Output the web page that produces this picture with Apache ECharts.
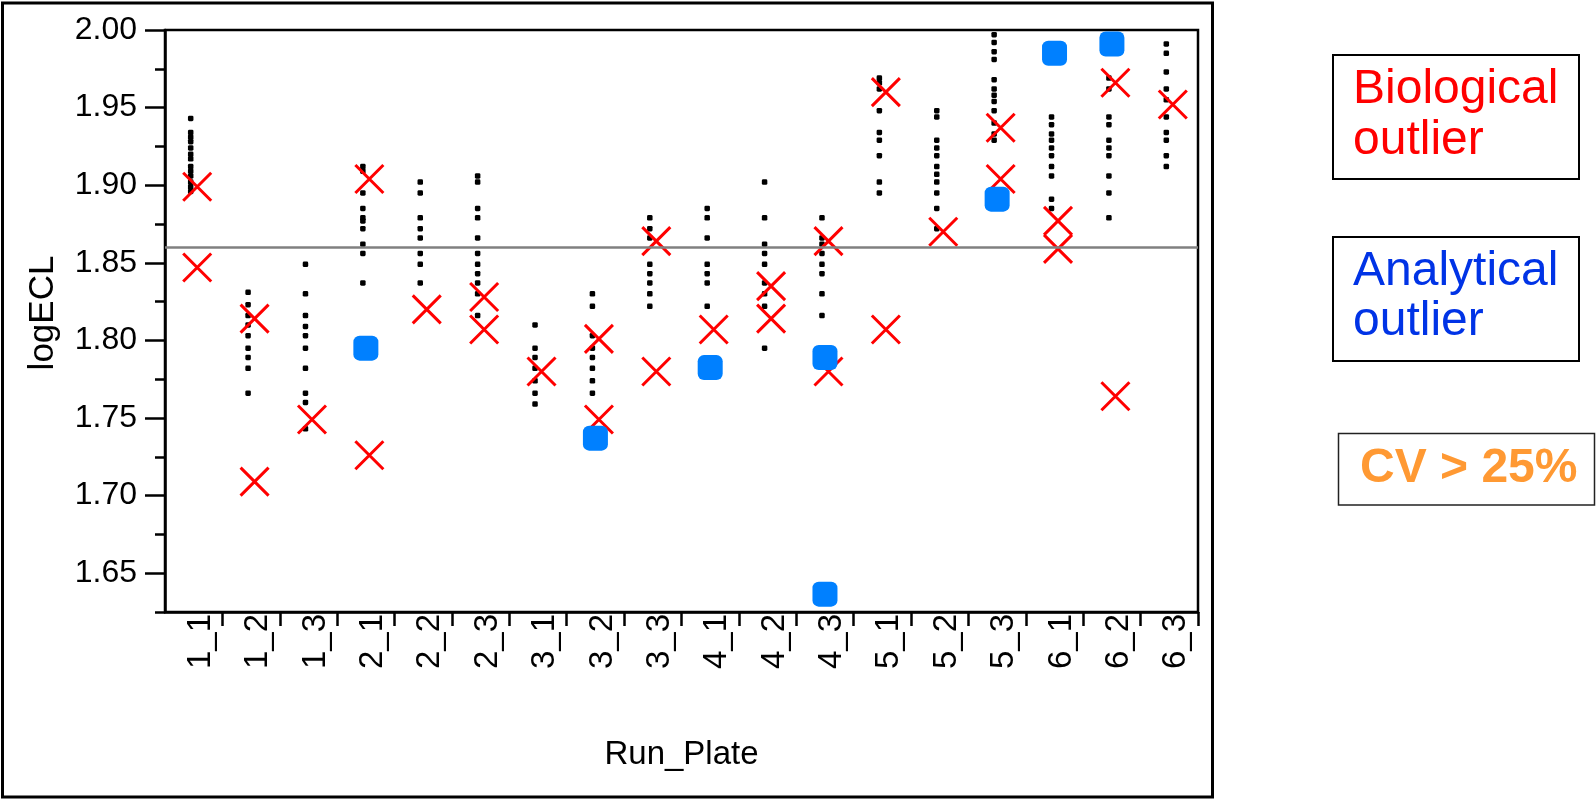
<!DOCTYPE html>
<html>
<head>
<meta charset="utf-8">
<script src="https://cdn.jsdelivr.net/npm/echarts@6/dist/echarts.min.js"></script>
<style>
html,body{margin:0;padding:0;background:#fff;}
#chart{width:1596px;height:799px;}
</style>
</head>
<body>
<div id="chart"></div>
<script>
// ---------- data ----------
const categories = ['1_1','1_2','1_3','2_1','2_2','2_3','3_1','3_2','3_3','4_1','4_2','4_3','5_1','5_2','5_3','6_1','6_2','6_3'];

// logECL replicate values per Run_Plate (same order as categories)
const sampleValues = [
  [1.943,1.934,1.931,1.928,1.924,1.920,1.917,1.912,1.909,1.906,1.902,1.899,1.896],
  [1.831,1.823,1.816,1.810,1.803,1.795,1.789,1.782,1.766],
  [1.849,1.830,1.816,1.809,1.803,1.795,1.782,1.766,1.760,1.743],
  [1.912,1.909,1.895,1.885,1.879,1.877,1.872,1.862,1.856,1.837],
  [1.902,1.895,1.879,1.872,1.866,1.856,1.849,1.837],
  [1.906,1.902,1.885,1.879,1.866,1.856,1.849,1.843,1.837,1.830,1.816],
  [1.810,1.795,1.789,1.782,1.774,1.766,1.759],
  [1.830,1.822,1.803,1.795,1.789,1.782,1.774,1.766],
  [1.879,1.872,1.866,1.849,1.843,1.837,1.830,1.822],
  [1.885,1.879,1.866,1.849,1.843,1.837,1.822],
  [1.902,1.879,1.862,1.856,1.849,1.837,1.830,1.822,1.795],
  [1.879,1.866,1.862,1.856,1.849,1.843,1.830,1.816],
  [1.969,1.966,1.962,1.948,1.934,1.929,1.919,1.902,1.895],
  [1.948,1.944,1.929,1.924,1.919,1.912,1.907,1.902,1.895,1.885,1.872],
  [1.997,1.992,1.986,1.981,1.968,1.962,1.958,1.954,1.948,1.940,1.933,1.929],
  [1.944,1.939,1.933,1.929,1.924,1.919,1.912,1.906,1.891,1.885],
  [1.969,1.962,1.944,1.939,1.929,1.924,1.919,1.906,1.895,1.879],
  [1.991,1.985,1.973,1.962,1.955,1.944,1.934,1.929,1.919,1.912]
];

// Biological outliers (red crosses)
const bioOutlierCats   = ['1_1','1_1','1_2','1_2','1_3','2_1','2_1','2_2','2_3','2_3','3_1','3_2','3_2','3_3','3_3','4_1','4_2','4_2','4_3','4_3','5_1','5_1','5_2','5_3','5_3','6_1','6_1','6_2','6_2','6_3'];
const bioOutlierValues = [1.899,1.847,1.814,1.709,1.749,1.904,1.726,1.820,1.828,1.807,1.780,1.801,1.749,1.864,1.780,1.807,1.835,1.814,1.864,1.780,1.960,1.807,1.870,1.937,1.904,1.877,1.859,1.966,1.764,1.952];

// Analytical outliers (blue squares)
const anaOutlierCats   = ['2_1','3_2','4_1','4_3','4_3','5_3','6_1','6_2'];
const anaOutlierValues = [1.795,1.737,1.7825,1.789,1.6365,1.891,1.985,1.991];

// Reference (mean) line
const meanLogECL = 1.861;

// Axis ticks
const yMin = 1.625, yMax = 2.00;
const yMajorTicks = [1.65,1.70,1.75,1.80,1.85,1.90,1.95,2.00];
const yMinorTicks = [1.625,1.675,1.725,1.775,1.825,1.875,1.925,1.975];

// Legend texts
const legendBio = ['Biological','outlier'];
const legendAna = ['Analytical','outlier'];
const legendCV  = 'CV > 25%';

// ---------- build ----------
const FONT = '"Liberation Sans", Arial, Helvetica, sans-serif';
const dotData = [];
categories.forEach((c, i) => sampleValues[i].forEach(v => dotData.push([c, v])));
const bioData = bioOutlierCats.map((c, i) => [c, bioOutlierValues[i]]);
const anaData = anaOutlierCats.map((c, i) => [c, anaOutlierValues[i]]);

const chart = echarts.init(document.getElementById('chart'), null, {renderer: 'canvas'});

const option = {
  backgroundColor: '#ffffff',
  animation: false,
  grid: {
    left: 165, top: 30, width: 1033, height: 582,
    show: true, borderColor: '#000', borderWidth: 2.5, backgroundColor: 'transparent'
  },
  xAxis: {
    type: 'category',
    data: categories,
    boundaryGap: true,
    name: 'Run_Plate',
    nameLocation: 'middle',
    nameGap: 126,
    nameTextStyle: {fontFamily: FONT, fontSize: 33, color: '#000'},
    axisLine: {show: true, lineStyle: {color: '#000', width: 2.5}},
    axisTick: {show: true, length: 14, interval: (idx) => idx !== 0, lineStyle: {color: '#000', width: 2.5}},
    axisLabel: {
      rotate: 90, margin: 2, interval: 0,
      fontFamily: FONT, fontSize: 33, color: '#000',
      verticalAlign: 'top',
      lineHeight: 14
    },
    splitLine: {show: false}
  },
  yAxis: [
    {
      type: 'value', min: yMin, max: yMax, position: 'left',
      name: 'logECL',
      nameLocation: 'middle',
      nameGap: 104,
      nameRotate: 90,
      nameTextStyle: {fontFamily: FONT, fontSize: 35, color: '#000', padding: [0, 0, 0, 16]},
      axisLine: {show: true, lineStyle: {color: '#000', width: 2.5}},
      axisTick: {show: true, length: 20, customValues: yMajorTicks, lineStyle: {color: '#000', width: 2.5}},
      axisLabel: {
        customValues: yMajorTicks, margin: 28,
        fontFamily: FONT, fontSize: 32, color: '#000',
        formatter: v => Number(v).toFixed(2)
      },
      splitLine: {show: false}
    },
    {
      type: 'value', min: yMin, max: yMax, position: 'left', offset: 0,
      axisLine: {show: false},
      axisTick: {show: true, length: 10, customValues: yMinorTicks, lineStyle: {color: '#000', width: 2.5}},
      axisLabel: {show: false},
      splitLine: {show: false}
    }
  ],
  series: [
    {
      name: 'samples',
      type: 'scatter',
      data: dotData,
      symbol: 'roundRect',
      symbolSize: 5.5,
      symbolOffset: [-3, 0],
      itemStyle: {color: '#000', opacity: 1},
      z: 2,
      markLine: {
        silent: true,
        symbol: 'none',
        label: {show: false},
        lineStyle: {color: '#808080', width: 2.5, type: 'solid', opacity: 1},
        data: [{yAxis: meanLogECL}]
      }
    },
    {
      name: 'Biological outlier',
      type: 'scatter',
      data: bioData,
      symbol: 'path://M0,0L10,10M10,0L0,10',
      symbolSize: 28,
      symbolOffset: [3.5, 0],
      itemStyle: {color: 'rgba(0,0,0,0)', borderColor: '#ff0000', borderWidth: 3, opacity: 1},
      z: 3
    },
    {
      name: 'Analytical outlier',
      type: 'scatter',
      data: anaData,
      symbol: 'roundRect',
      symbolSize: 25,
      itemStyle: {color: '#0080ff', opacity: 1},
      z: 4
    }
  ],
  graphic: [
    // outer frame
    {type: 'rect', shape: {x: 2.5, y: 3, width: 1210, height: 794}, style: {fill: 'none', stroke: '#000', lineWidth: 3}, z: 0, silent: true},
    // legend box 1
    {type: 'rect', shape: {x: 1333, y: 55, width: 246, height: 124}, style: {fill: '#fff', stroke: '#000', lineWidth: 2}, silent: true},
    {type: 'text', left: 1353, top: 66, style: {text: legendBio[0], fill: '#ff0000', font: '48px ' + FONT}, silent: true},
    {type: 'text', left: 1353, top: 117, style: {text: legendBio[1], fill: '#ff0000', font: '48px ' + FONT}, silent: true},
    // legend box 2
    {type: 'rect', shape: {x: 1333, y: 237, width: 246, height: 124}, style: {fill: '#fff', stroke: '#000', lineWidth: 2}, silent: true},
    {type: 'text', left: 1353, top: 248, style: {text: legendAna[0], fill: '#0033e6', font: '48px ' + FONT}, silent: true},
    {type: 'text', left: 1353, top: 298, style: {text: legendAna[1], fill: '#0033e6', font: '48px ' + FONT}, silent: true},
    // legend box 3
    {type: 'rect', shape: {x: 1338.5, y: 433.5, width: 256, height: 71.5}, style: {fill: '#fff', stroke: '#222', lineWidth: 1.5}, silent: true},
    {type: 'text', left: 1360, top: 445, style: {text: legendCV, fill: '#ff9933', font: 'bold 48px ' + FONT}, silent: true}
  ]
};
chart.setOption(option);
</script>
</body>
</html>
